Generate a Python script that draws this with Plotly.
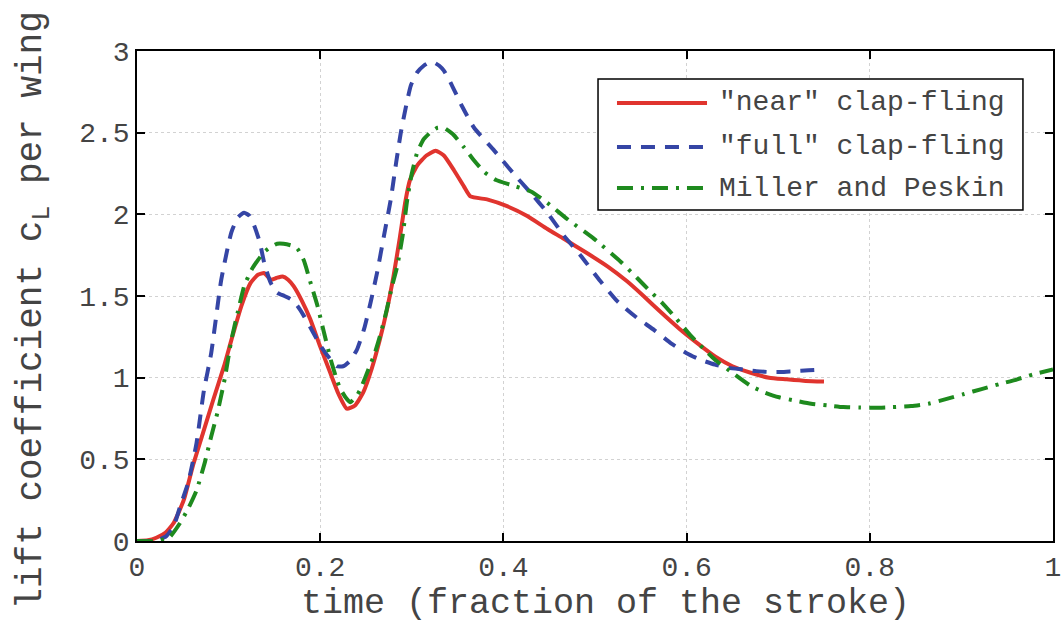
import plotly.graph_objects as go

# ---- data ----
near_t = [0.0, 0.012, 0.021, 0.031, 0.04, 0.051, 0.061, 0.072, 0.083, 0.095, 0.103, 0.114, 0.124, 0.132,
          0.139, 0.146, 0.152, 0.159, 0.165, 0.171, 0.18, 0.189, 0.2, 0.211, 0.22, 0.229, 0.238,
          0.247, 0.256, 0.265, 0.273, 0.28, 0.287, 0.293, 0.298, 0.306, 0.316, 0.326, 0.335, 0.346,
          0.357, 0.364, 0.383, 0.404, 0.426, 0.448, 0.466, 0.492, 0.514, 0.535, 0.553, 0.572,
          0.592, 0.612, 0.631, 0.65, 0.67, 0.69, 0.709, 0.73, 0.75]
near_cl = [0.0, 0.005, 0.02, 0.05, 0.11, 0.25, 0.46, 0.66, 0.86, 1.07, 1.23, 1.44, 1.58, 1.63,
           1.64, 1.60, 1.61, 1.62, 1.60, 1.56, 1.47, 1.36, 1.19, 1.03, 0.90, 0.81, 0.83,
           0.91, 1.05, 1.23, 1.42, 1.62, 1.86, 2.08, 2.21, 2.30, 2.36, 2.39, 2.36, 2.27,
           2.17, 2.11, 2.09, 2.05, 1.99, 1.91, 1.85, 1.76, 1.68, 1.59, 1.50, 1.40,
           1.30, 1.21, 1.13, 1.07, 1.03, 1.00, 0.99, 0.98, 0.976]

full_t = [0.0, 0.02, 0.032, 0.04, 0.047, 0.056, 0.065, 0.073, 0.081, 0.092, 0.103, 0.11, 0.117, 0.123,
          0.128, 0.134, 0.139, 0.146, 0.153, 0.161, 0.168, 0.175, 0.182, 0.192, 0.201, 0.21,
          0.218, 0.225, 0.232, 0.24, 0.248, 0.255, 0.262, 0.27, 0.277, 0.283, 0.288, 0.294,
          0.299, 0.306, 0.313, 0.319, 0.324, 0.33, 0.335, 0.342, 0.355, 0.368, 0.39, 0.411,
          0.43, 0.448, 0.466, 0.484, 0.506, 0.524, 0.545, 0.565, 0.583,
          0.6, 0.615, 0.631, 0.646, 0.662, 0.676, 0.689, 0.703, 0.717, 0.733, 0.75]
full_cl = [0.0, 0.0, 0.03, 0.09, 0.21, 0.36, 0.6, 0.92, 1.15, 1.60, 1.89, 1.98, 2.01, 1.99,
           1.93, 1.83, 1.70, 1.58, 1.52, 1.50, 1.48, 1.44, 1.38, 1.28, 1.19, 1.12,
           1.07, 1.07, 1.10, 1.17, 1.30, 1.46, 1.64, 1.88, 2.09, 2.32, 2.50, 2.67,
           2.79, 2.87, 2.91, 2.93, 2.93, 2.91, 2.88, 2.81, 2.66, 2.53, 2.39, 2.25,
           2.13, 2.01, 1.87, 1.75, 1.59, 1.47, 1.37, 1.29, 1.21,
           1.15, 1.11, 1.08, 1.06, 1.05, 1.04, 1.035, 1.035, 1.04, 1.045, 1.05]

mp_t = [0.0, 0.02, 0.035, 0.047, 0.056, 0.065, 0.074, 0.081, 0.088, 0.096, 0.103, 0.11, 0.117,
        0.125, 0.132, 0.139, 0.146, 0.153, 0.16, 0.168, 0.175, 0.182, 0.189, 0.197, 0.204,
        0.212, 0.218, 0.222, 0.229, 0.233, 0.24, 0.244, 0.254, 0.259, 0.265, 0.272, 0.278,
        0.284, 0.29, 0.295, 0.3, 0.306, 0.313, 0.32, 0.328, 0.335, 0.345, 0.357, 0.368,
        0.379, 0.392, 0.408, 0.43, 0.448, 0.47, 0.499, 0.528, 0.546,
        0.56, 0.573, 0.589, 0.604, 0.618, 0.631, 0.65, 0.67, 0.685, 0.701,
        0.718, 0.736, 0.754, 0.771, 0.789, 0.806, 0.825, 0.845, 0.864, 0.884, 0.903, 0.922,
        0.941, 0.961, 0.978, 1.0]
mp_cl = [0.0, 0.0, 0.02, 0.11, 0.2, 0.31, 0.48, 0.64, 0.79, 1.0, 1.23, 1.40, 1.56,
         1.66, 1.72, 1.77, 1.80, 1.82, 1.82, 1.81, 1.79, 1.72, 1.59, 1.44, 1.28,
         1.10, 0.99, 0.93, 0.87, 0.85, 0.89, 0.93, 1.07, 1.14, 1.25, 1.40, 1.55,
         1.68, 1.87, 2.09, 2.25, 2.38, 2.46, 2.50, 2.53, 2.53, 2.49, 2.41, 2.33,
         2.26, 2.21, 2.18, 2.14, 2.07, 1.97, 1.85, 1.71, 1.61,
         1.53, 1.46, 1.36, 1.26, 1.18, 1.11, 1.03, 0.95, 0.91, 0.88,
         0.86, 0.84, 0.83, 0.82, 0.817, 0.816, 0.82, 0.826, 0.84, 0.87, 0.90, 0.93,
         0.96, 0.99, 1.02, 1.05]

series_names = ['"near" clap-fling', '"full" clap-fling', "Miller and Peskin"]
series_colors = ["#e0342e", "#3545a5", "#1e8a1e"]
series_dash = ["solid", "14px,10px", "16px,8px,3px,8px"]

x_ticks = [0, 0.2, 0.4, 0.6, 0.8, 1]
x_tick_text = ["0", "0.2", "0.4", "0.6", "0.8", "1"]
y_ticks = [0, 0.5, 1, 1.5, 2, 2.5, 3]
y_tick_text = ["0", "0.5", "1", "1.5", "2", "2.5", "3"]
x_title = "time (fraction of the stroke)"
y_title = "lift coefficient c<sub>L</sub> per wing"

FONT = "Liberation Mono, Courier New, monospace"
TXT = "#444444"

fig = go.Figure()
for t, cl, name, col, dash in zip([near_t, full_t, mp_t], [near_cl, full_cl, mp_cl],
                                  series_names, series_colors, series_dash):
    fig.add_trace(go.Scatter(x=t, y=cl, mode="lines", name=name, showlegend=False,
                             line=dict(color=col, width=4, dash=dash, shape="spline", smoothing=0.5)))

axis_common = dict(
    showline=True, linecolor="black", linewidth=1.5, mirror="ticks",
    ticks="inside", ticklen=8, tickcolor="black", tickwidth=1.5,
    showgrid=True, gridcolor="#d2d2d2", griddash="dot", gridwidth=1,
    zeroline=False, tickfont=dict(family=FONT, size=28, color=TXT),
)

fig.update_xaxes(range=[0, 1], tickvals=x_ticks, ticktext=x_tick_text, **axis_common)
fig.update_yaxes(range=[0, 3], tickvals=y_ticks, ticktext=y_tick_text, **axis_common)

# ---- legend box drawn in paper coordinates ----
leg_x0, leg_x1, leg_y0, leg_y1 = 0.5033, 0.9672, 0.6755, 0.9429
line_x0, line_x1, text_x = 0.524, 0.6223, 0.6332
row_y = [0.8939, 0.8041, 0.7204]
shapes = [dict(type="rect", xref="paper", yref="paper", x0=leg_x0, x1=leg_x1, y0=leg_y0, y1=leg_y1,
               line=dict(color="black", width=1.5), fillcolor="white", layer="above")]
annotations = []
for name, col, dash, ry in zip(series_names, series_colors, series_dash, row_y):
    shapes.append(dict(type="line", xref="paper", yref="paper", x0=line_x0, x1=line_x1, y0=ry, y1=ry,
                       line=dict(color=col, width=4, dash=dash), layer="above"))
    annotations.append(dict(xref="paper", yref="paper", x=text_x, y=ry, text=name, showarrow=False,
                            xanchor="left", yanchor="middle", font=dict(family=FONT, size=28, color=TXT)))

# axis titles
annotations.append(dict(xref="paper", yref="paper", x=0.511, y=-0.128, text=x_title, showarrow=False,
                        xanchor="center", yanchor="middle", borderpad=0,
                        font=dict(family=FONT, size=35, color=TXT)))
annotations.append(dict(xref="paper", yref="paper", x=-0.112, y=0.471, text=y_title, showarrow=False,
                        textangle=-90, xanchor="center", yanchor="middle", borderpad=0,
                        font=dict(family=FONT, size=36, color=TXT)))

fig.update_layout(
    width=1062, height=627,
    margin=dict(l=137, r=9, t=51, b=86, autoexpand=False),
    paper_bgcolor="white", plot_bgcolor="white",
    showlegend=False, shapes=shapes, annotations=annotations,
)

fig.write_html("out.html", config={"displayModeBar": False},
               post_script="document.body.style.margin='0';")
